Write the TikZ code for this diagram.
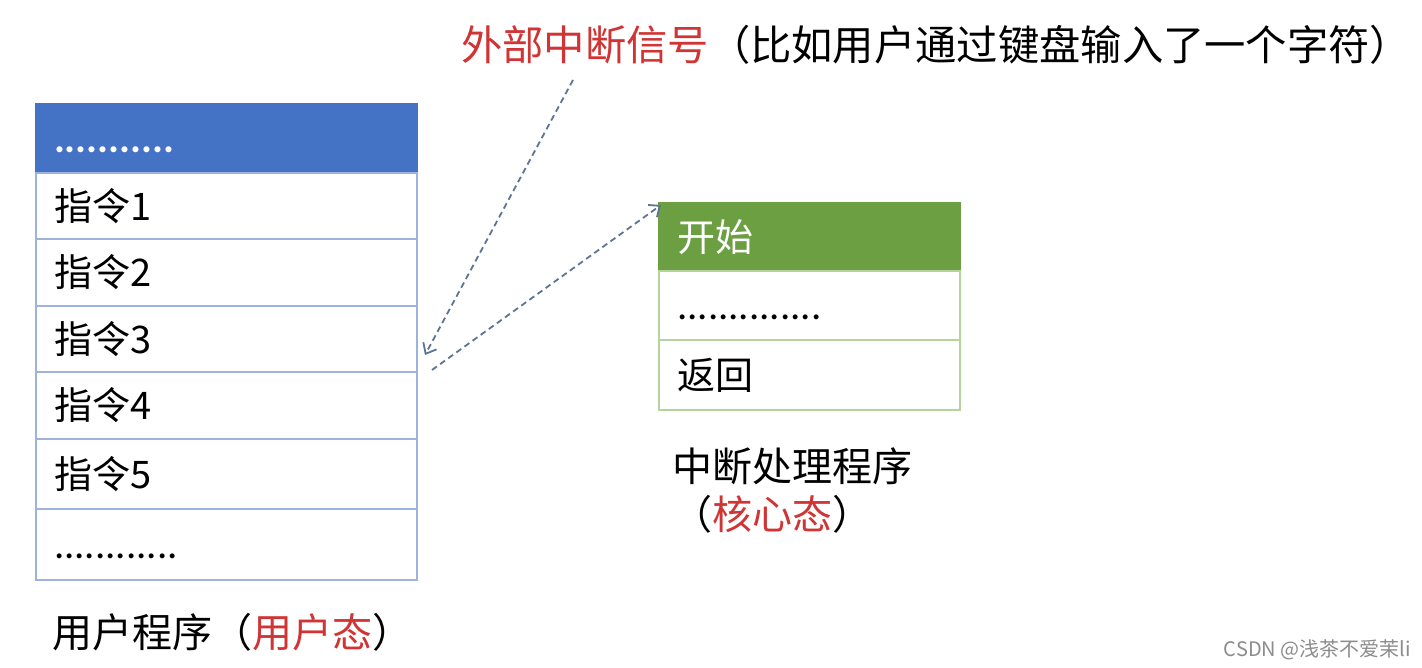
\documentclass[tikz,border=0pt]{standalone}
\usepackage{fontspec}
\setmainfont{Carlito}
\newfontfamily\cjk{Noto Sans CJK SC}
\usetikzlibrary{arrows.meta,calc}
\definecolor{hdrblue}{HTML}{4472C4}
\definecolor{boxblue}{HTML}{9DB3DC}
\definecolor{hdrgreen}{HTML}{6C9E42}
\definecolor{boxgreen}{HTML}{B5D39C}
\definecolor{sigred}{HTML}{D03434}
\definecolor{arrowc}{HTML}{5D7595}
\newcommand{\rowdots}[1]{\vphantom{指}{\rmfamily\fontsize{41}{44}\selectfont #1}}
\begin{document}
\begin{tikzpicture}[x=1pt,y=-1pt,
  rowbase/.style={rectangle, anchor=north west, inner xsep=18pt, inner ysep=0pt, outer sep=0pt,
     align=left, font=\cjk\fontsize{38}{44}\selectfont, line width=1.4pt},
  lrow/.style={rowbase, draw=boxblue, minimum width=381pt, text width=345pt},
  rrow/.style={rowbase, draw=boxgreen, minimum width=301pt, text width=265pt},
  lbl/.style={anchor=west, inner sep=0pt, font=\cjk\fontsize{40}{48}\selectfont},
  sig/.style={arrowc, line width=1.8pt, dash pattern=on 6pt off 4pt, -{Straight Barb[length=9pt,width=15pt,line width=1.8pt]}}
]
\fill[white] (0,0) rectangle (1422,668);
\useasboundingbox (0,0) rectangle (1422,668);

% user program
\node[lrow, fill=hdrblue, draw=hdrblue, text=white, minimum height=69pt] (hdr) at (36,104) {\rowdots{\textbf{...........}}};
\node[lrow, minimum height=66pt] (r1) at (hdr.south west) {指令1};
\node[lrow, minimum height=67pt] (r2) at (r1.south west) {指令2};
\node[lrow, minimum height=66pt] (r3) at (r2.south west) {指令3};
\node[lrow, minimum height=67pt] (r4) at (r3.south west) {指令4};
\node[lrow, minimum height=70pt] (r5) at (r4.south west) {指令5};
\node[lrow, minimum height=71pt] (r6) at (r5.south west) {\rowdots{............}};

% handler
\node[rrow, fill=hdrgreen, draw=hdrgreen, text=white, minimum height=68pt] (s1) at (659,203) {开始};
\node[rrow, minimum height=69pt] (s2) at (s1.south west) {\rowdots{..............}};
\node[rrow, minimum height=70pt] (s3) at (s2.south west) {返回};

% labels
\node[lbl, font=\cjk\fontsize{41.3}{48}\selectfont] (top) at (461,45) {\textcolor{sigred}{外部中断信号}（比如用户通过键盘输入了一个字符）};
\node[lbl] (ha) at (672,466) {中断处理程序};
\node[lbl] (hb) at (672,514) {（\textcolor{sigred}{核心态}）};
\node[lbl] (ua) at (52,632) {用户程序（\textcolor{sigred}{用户态}）};
\node[anchor=east, inner sep=0pt, text=black!45, font=\cjk\fontsize{20}{24}\selectfont] (wm) at (1411,650) {CSDN @浅茶不爱茉li};

% connectors
\coordinate (c1) at (573,80);
\coordinate (c2) at (425,355);
\coordinate (c3) at (432,370);
\draw[sig] (c1) -- (c2);
\draw[sig] (c3) -- ($(s1.north west)+(2,2)$);
\end{tikzpicture}
\end{document}
